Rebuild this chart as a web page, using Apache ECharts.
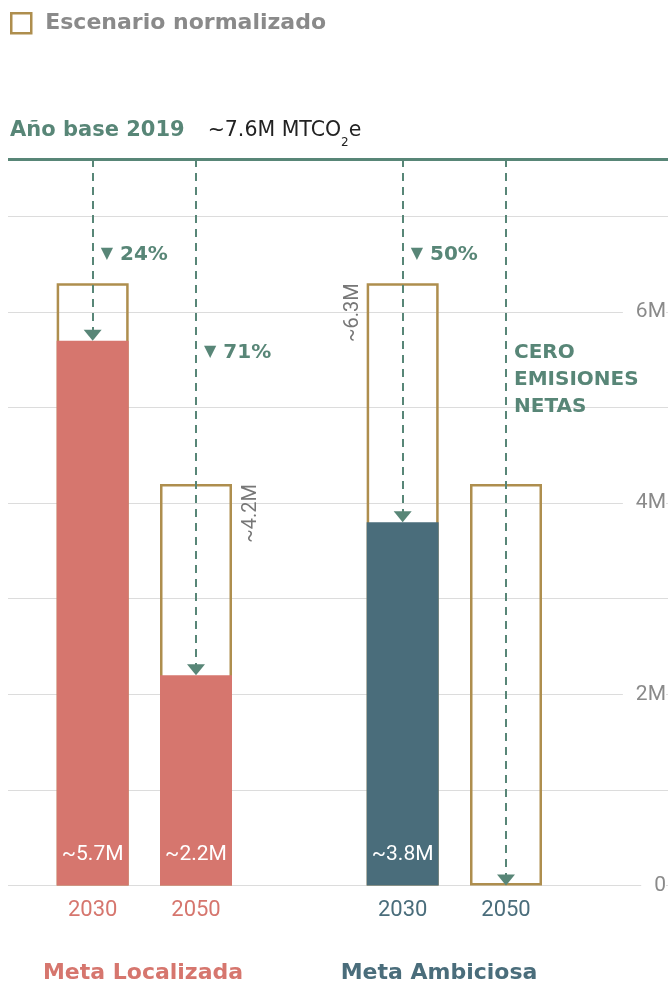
<!DOCTYPE html>
<html><head><meta charset="utf-8">
<script src="https://cdn.jsdelivr.net/npm/echarts@6/dist/echarts.min.js"></script>
<style>html,body{margin:0;padding:0;background:#fff}#c{width:670px;height:986px}</style>
</head><body><div id="c"></div>
<script>
// ---- data ----
const years = ['2030', '2050', '', '2030', '2050', ''];
const columnGroup = [0, 0, null, 1, 1, null];
const groupNames = ['Meta Localizada', 'Meta Ambiciosa'];
const normalized = [6.3, 4.2, null, 6.3, 4.2, null];
const targets = [5.7, 2.2, null, 3.8, 0, null];
const reductions = ['24%', '71%', null, '50%', null, null];
const baseYearValue = 7.6;
const baseYearLabel = 'Año base 2019';
const netZeroText = 'CERO\nEMISIONES\nNETAS';

// ---- style ----
const GREEN = '#588677', GOLD = '#AE8E4E', GRAY = '#8a8a8a';
const groupColors = ['#D6766E', '#4A6D7B'];
const HEAD = '"DejaVu Sans", "Noto Sans", sans-serif';
const NUM = 'Roboto, "Noto Sans", sans-serif';
const colColor = i => columnGroup[i] == null ? 'transparent' : groupColors[columnGroup[i]];

const pctLevel = {0: 6.6, 1: 5.57, 3: 6.6};
const sideLabel = {1: 'right', 3: 'left'};

const hollowData = normalized.map((v, i) => {
  if (v == null) return null;
  const d = {value: v};
  if (sideLabel[i]) {
    d.label = {
      show: true, formatter: '~' + v.toFixed(1) + 'M', rotate: 90,
      align: 'right', verticalAlign: 'middle',
      position: sideLabel[i] === 'left' ? [-14, 0] : [91, 0],
      color: '#777', fontSize: 20, fontFamily: NUM
    };
  }
  return d;
});
const targetData = targets.map((v, i) => v == null ? null : {
  value: v, itemStyle: {color: colColor(i)},
  label: {show: v > 0}
});
const arrows = [];
targets.forEach((v, i) => { if (v != null) arrows.push([{coord: [i, baseYearValue]}, {coord: [i, v]}]); });
const pctPoints = [];
reductions.forEach((r, i) => { if (r) pctPoints.push({coord: [i, pctLevel[i]], value: r,
  label: {formatter: '{t|▼}{p|' + r + '}'}}); });
pctPoints.push({coord: [4, 5.29], value: 0, label: {formatter: '{c|' + netZeroText + '}'}});

const chart = echarts.init(document.getElementById('c'));
chart.setOption({
  animation: false,
  legend: {
    left: 10, top: 12, padding: 0, itemWidth: 20, itemHeight: 20,
    data: [{name: 'Escenario normalizado', icon: 'rect',
      itemStyle: {color: 'rgba(0,0,0,0)', borderColor: GOLD, borderWidth: 2.5}}],
    textStyle: {fontSize: 22, fontWeight: 'bold', color: GRAY, fontFamily: HEAD, padding: [0, 0, 0, 9]}
  },
  title: {
    left: 10, top: 120, padding: 0,
    text: '{a|' + baseYearLabel + '}{g|}{b|~' + baseYearValue + 'M MTCO}{s|2}{b|e}',
    textStyle: {fontWeight: 'normal', rich: {
      a: {fontSize: 21, fontWeight: 'bold', color: GREEN, fontFamily: HEAD, verticalAlign: 'middle'},
      g: {width: 23},
      b: {fontSize: 20.5, fontWeight: 'normal', color: '#222', fontFamily: HEAD, verticalAlign: 'middle'},
      s: {fontSize: 12, lineHeight: 12, fontWeight: 'normal', color: '#222', fontFamily: HEAD, padding: [24, 0, 0, 0], verticalAlign: 'middle'}
    }}
  },
  grid: [
    {left: 41, right: 9, top: 159, bottom: 100.5},
    {left: 8, right: 2, top: 159, bottom: 100.5}
  ],
  xAxis: [
    {type: 'category', gridIndex: 0, data: years.map((y, i) => ({value: y, textStyle: {color: colColor(i)}})),
      axisLine: {show: false}, axisTick: {show: false},
      axisLabel: {margin: 14, fontSize: 22, fontFamily: NUM}},
    {type: 'value', gridIndex: 1, min: 0, max: 1, show: false}
  ],
  yAxis: [
    {type: 'value', gridIndex: 0, min: 0, max: baseYearValue, show: false},
    {type: 'value', gridIndex: 1, min: 0, max: baseYearValue, interval: 1, z: 0,
      axisLine: {show: false}, axisTick: {show: false}, axisLabel: {show: false},
      splitLine: {show: true, lineStyle: {color: '#dcdcdc', width: 1}}},
    {type: 'value', gridIndex: 1, min: 0, max: baseYearValue, interval: 2, position: 'right', z: 3,
      axisLine: {show: false}, axisTick: {show: false}, splitLine: {show: false},
      axisLabel: {inside: false, align: 'right', margin: -2, showMaxLabel: false, color: GRAY, fontSize: 21, fontFamily: NUM,
        backgroundColor: '#fff', padding: [3, 0, 3, 13],
        formatter: v => v === 0 ? '0' : v + 'M'}}
  ],
  series: [
    {name: 'base', type: 'line', xAxisIndex: 1, yAxisIndex: 1, data: [], silent: true,
      markLine: {silent: true, symbol: 'none', label: {show: false},
        lineStyle: {color: GREEN, width: 3, type: 'solid'}, data: [{yAxis: baseYearValue}]}},
    {name: 'Escenario normalizado', type: 'bar', xAxisIndex: 0, yAxisIndex: 0, barWidth: 72, barGap: '-100%',
      itemStyle: {color: 'rgba(0,0,0,0)', borderColor: GOLD, borderWidth: 2.5},
      data: hollowData, z: 2},
    {name: 'Meta', type: 'bar', xAxisIndex: 0, yAxisIndex: 0, barWidth: 72, barGap: '-100%', z: 3,
      data: targetData,
      label: {position: 'insideBottom', distance: 20, color: '#fff', fontSize: 21, fontFamily: NUM,
        formatter: p => '~' + p.value.toFixed(1) + 'M'},
      markLine: {silent: true, symbol: ['none', 'triangle'], symbolSize: [18, 11], symbolOffset: [[0, 0], [0, 5.5]],
        label: {show: false}, lineStyle: {color: GREEN, width: 2, type: [8, 6]}, data: arrows},
      markPoint: {silent: true, symbol: 'circle', symbolSize: 0, itemStyle: {color: 'transparent'},
        label: {show: true, position: 'right', distance: 8, align: 'left', verticalAlign: 'middle',
          rich: {
            t: {fontSize: 16, color: GREEN, padding: [0, 7, 2, 0], fontFamily: 'DejaVu Sans'},
            p: {fontSize: 20, fontWeight: 'bold', color: GREEN, fontFamily: HEAD},
            c: {fontSize: 20, fontWeight: 'bold', color: GREEN, fontFamily: HEAD, lineHeight: 27}
          }},
        data: pctPoints}}
  ],
  graphic: groupNames.map((g, k) => ({
    type: 'text', x: k === 0 ? 143 : 439, y: 973, silent: true,
    style: {text: g, fill: groupColors[k], font: 'bold 22px ' + HEAD, textAlign: 'center', textVerticalAlign: 'middle'}
  }))
});
</script></body></html>
